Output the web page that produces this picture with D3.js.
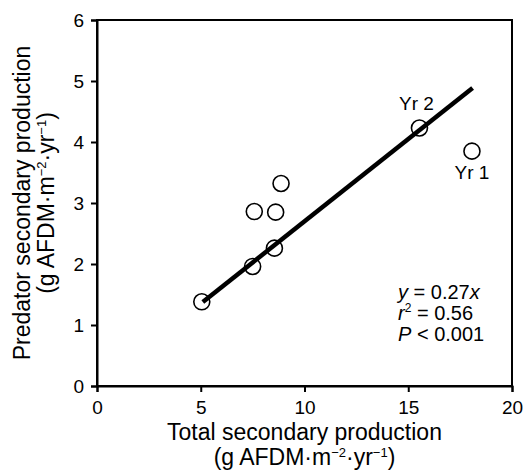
<!DOCTYPE html>
<html>
<head>
<meta charset="utf-8">
<script src="https://cdn.jsdelivr.net/npm/d3@7"></script>
<style>
  body { margin: 0; background: #fff; }
  text { font-family: "Liberation Sans", Arial, Helvetica, sans-serif; fill: #000; }
</style>
</head>
<body>
<div id="chart"></div>
<script>
var svgWidth = 525;
var svgHeight = 471;

var margin = { top: 20, right: 13, bottom: 85, left: 97 };

// data
var totalProd = [5.05, 7.5, 7.58, 8.55, 8.61, 8.87, 15.54, 18.07];
var predProd  = [1.38, 1.96, 2.86, 2.26, 2.85, 3.32, 4.23, 3.85];
var pointLabels = ["", "", "", "", "", "", "Yr 2", "Yr 1"];
var xTicks = [0, 5, 10, 15, 20];
var yTicks = [0, 1, 2, 3, 4, 5, 6];
var slope = 0.27;
var fitRange = [5.1, 18.1];

var width = svgWidth - margin.left - margin.right;
var height = svgHeight - margin.top - margin.bottom;

var svg = d3.select("#chart")
            .append("svg")
            .attr("width", svgWidth)
            .attr("height", svgHeight);

var chart = svg.append("g").attr("transform", `translate(${margin.left}, ${margin.top})`);

var xScale = d3.scaleLinear().domain([0, 20]).range([0, width]);
var yScale = d3.scaleLinear().domain([0, 6]).range([height, 0]);

// frame
chart.append("rect")
     .attr("x", 0).attr("y", 0)
     .attr("width", width).attr("height", height)
     .attr("fill", "none")
     .attr("stroke", "#000")
     .attr("stroke-width", 2);

var xAxis = d3.axisBottom(xScale).tickValues(xTicks).tickFormat(d3.format("d")).tickSize(6).tickPadding(9);
var yAxis = d3.axisLeft(yScale).tickValues(yTicks).tickFormat(d3.format("d")).tickSize(6).tickPadding(7);

var gx = chart.append("g").attr("transform", `translate(0, ${height})`).call(xAxis);
var gy = chart.append("g").call(yAxis);

[gx, gy].forEach(function(g){
    g.select(".domain").attr("stroke", "#000").attr("stroke-width", 2);
    g.selectAll(".tick line").attr("stroke", "#000").attr("stroke-width", 2);
    g.selectAll(".tick text")
     .style("font-family", "'Liberation Sans', Arial, sans-serif")
     .style("font-size", "19px")
     .attr("fill", "#000");
});

// regression line
var line = d3.line().x(d => xScale(d)).y(d => yScale(slope * d));
chart.append("path")
     .datum(fitRange)
     .attr("d", line)
     .attr("fill", "none")
     .attr("stroke", "#000")
     .attr("stroke-width", 4.5);

// points
var data = totalProd.map(function(v, i){ return { x: v, y: predProd[i], label: pointLabels[i] }; });

chart.selectAll("circle.pt")
     .data(data)
     .enter()
     .append("circle")
     .attr("class", "pt")
     .attr("cx", d => xScale(d.x))
     .attr("cy", d => yScale(d.y))
     .attr("r", 8)
     .attr("fill", "none")
     .attr("stroke", "#000")
     .attr("stroke-width", 1.6);

// Yr labels
chart.selectAll("text.yr")
     .data(data.filter(d => d.label !== ""))
     .enter()
     .append("text")
     .attr("class", "yr")
     .attr("x", d => xScale(d.x) + (d.label === "Yr 2" ? -3 : 0))
     .attr("y", d => d.label === "Yr 2" ? yScale(d.y) - 18 : yScale(d.y) + 28)
     .attr("text-anchor", "middle")
     .style("font-size", "19px")
     .text(d => d.label);

// stats
var sx = 301;
var stats = chart.append("text")
                 .attr("x", sx)
                 .attr("y", 279)
                 .style("font-size", "20px");
var l1 = stats.append("tspan").attr("x", sx).attr("dy", 0);
l1.append("tspan").style("font-style", "italic").text("y");
l1.append("tspan").text(" = 0.27");
l1.append("tspan").style("font-style", "italic").text("x");

var l2 = stats.append("tspan").attr("x", sx).attr("dy", 21);
l2.append("tspan").style("font-style", "italic").text("r");
l2.append("tspan").attr("dy", -8).style("font-size", "12px").text("2");
l2.append("tspan").attr("dy", 8).text(" = 0.56");

var l3 = stats.append("tspan").attr("x", sx).attr("dy", 21);
l3.append("tspan").style("font-style", "italic").text("P");
l3.append("tspan").text(" < 0.001");

// axis titles
function unitLine(sel){
    sel.append("tspan").text("(g AFDM\u00b7m");
    sel.append("tspan").attr("dy", -8).style("font-size", "13px").text("\u22122");
    sel.append("tspan").attr("dy", 8).text("\u00b7yr");
    sel.append("tspan").attr("dy", -8).style("font-size", "13px").text("\u22121");
    sel.append("tspan").attr("dy", 8).text(")");
}

var xTitle = svg.append("text")
                .attr("text-anchor", "middle")
                .style("font-size", "23px");
xTitle.append("tspan").attr("x", margin.left + width / 2).attr("y", 440).text("Total secondary production");
unitLine(xTitle.append("tspan").attr("x", margin.left + width / 2).attr("y", 465));

var yTitle = svg.append("text")
                .attr("text-anchor", "middle")
                .attr("transform", `translate(0, ${margin.top + height / 2}) rotate(-90)`)
                .style("font-size", "23px");
yTitle.append("tspan").attr("x", 0).attr("y", 30).text("Predator secondary production");
unitLine(yTitle.append("tspan").attr("x", 0).attr("y", 54));
</script>
</body>
</html>
